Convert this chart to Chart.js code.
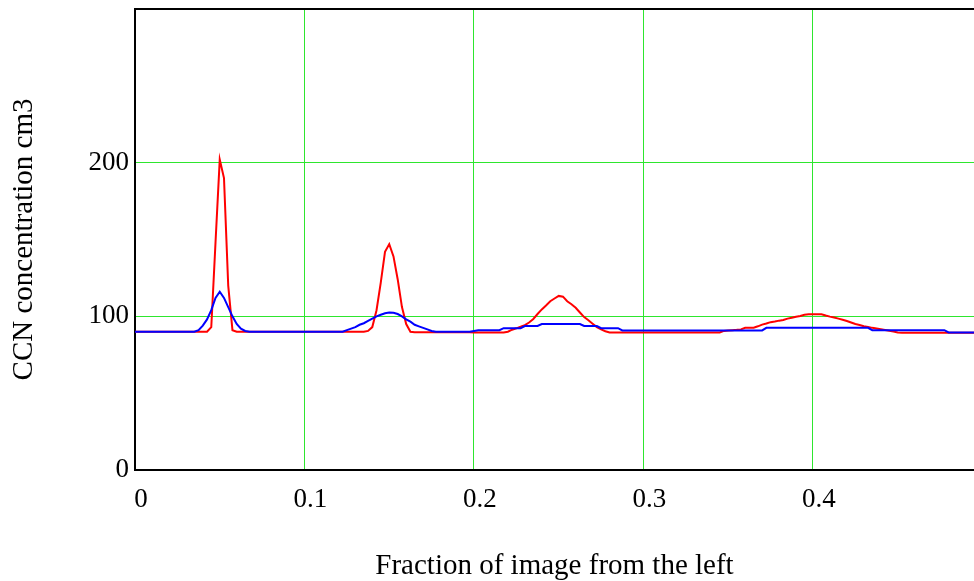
<!DOCTYPE html>
<html>
<head>
<meta charset="utf-8">
<title>CCN concentration</title>
<script src="https://cdn.jsdelivr.net/npm/chart.js@4/dist/chart.umd.min.js"></script>
<style>
    body { margin: 0; background: #fff; }
    #chart { display: block; }
</style>
</head>
<body>
<canvas id="chart" width="974" height="581"></canvas>
<script>
// x positions, fraction of image from the left (step 0.0025)
const xs = [
    0, 0.0025, 0.005, 0.0075, 0.01, 0.0125, 0.015, 0.0175, 0.02, 0.0225,
    0.025, 0.0275, 0.03, 0.0325, 0.035, 0.0375, 0.04, 0.0425, 0.045, 0.0475,
    0.05, 0.0525, 0.055, 0.0575, 0.06, 0.0625, 0.065, 0.0675, 0.07, 0.0725,
    0.075, 0.0775, 0.08, 0.0825, 0.085, 0.0875, 0.09, 0.0925, 0.095, 0.0975,
    0.1, 0.1025, 0.105, 0.1075, 0.11, 0.1125, 0.115, 0.1175, 0.12, 0.1225,
    0.125, 0.1275, 0.13, 0.1325, 0.135, 0.1375, 0.14, 0.1425, 0.145, 0.1475,
    0.15, 0.1525, 0.155, 0.1575, 0.16, 0.1625, 0.165, 0.1675, 0.17, 0.1725,
    0.175, 0.1775, 0.18, 0.1825, 0.185, 0.1875, 0.19, 0.1925, 0.195, 0.1975,
    0.2, 0.2025, 0.205, 0.2075, 0.21, 0.2125, 0.215, 0.2175, 0.22, 0.2225,
    0.225, 0.2275, 0.23, 0.2325, 0.235, 0.2375, 0.24, 0.2425, 0.245, 0.2475,
    0.25, 0.2525, 0.255, 0.2575, 0.26, 0.2625, 0.265, 0.2675, 0.27, 0.2725,
    0.275, 0.2775, 0.28, 0.2825, 0.285, 0.2875, 0.29, 0.2925, 0.295, 0.2975,
    0.3, 0.3025, 0.305, 0.3075, 0.31, 0.3125, 0.315, 0.3175, 0.32, 0.3225,
    0.325, 0.3275, 0.33, 0.3325, 0.335, 0.3375, 0.34, 0.3425, 0.345, 0.3475,
    0.35, 0.3525, 0.355, 0.3575, 0.36, 0.3625, 0.365, 0.3675, 0.37, 0.3725,
    0.375, 0.3775, 0.38, 0.3825, 0.385, 0.3875, 0.39, 0.3925, 0.395, 0.3975,
    0.4, 0.4025, 0.405, 0.4075, 0.41, 0.4125, 0.415, 0.4175, 0.42, 0.4225,
    0.425, 0.4275, 0.43, 0.4325, 0.435, 0.4375, 0.44, 0.4425, 0.445, 0.4475,
    0.45, 0.4525, 0.455, 0.4575, 0.46, 0.4625, 0.465, 0.4675, 0.47, 0.4725,
    0.475, 0.4775, 0.48, 0.4825, 0.485, 0.4875, 0.49, 0.4925, 0.495
];

// red curve
const redValues = [
    90, 90, 90, 90, 90, 90, 90, 90, 90, 90,
    90, 90, 90, 90, 90, 90, 90, 90, 93, 148,
    202, 190, 120, 91, 90, 90, 90, 90, 90, 90,
    90, 90, 90, 90, 90, 90, 90, 90, 90, 90,
    90, 90, 90, 90, 90, 90, 90, 90, 90, 90,
    90, 90, 90, 90, 90, 90.5, 93, 104, 122, 142,
    147, 139, 124, 106, 95, 90, 89.7, 89.7, 89.7, 89.7,
    89.7, 89.7, 89.7, 89.7, 89.7, 89.7, 89.7, 89.7, 89.7, 89.7,
    89.5, 89.5, 89.5, 89.5, 89.5, 89.5, 89.5, 89.5, 90, 91.3,
    92.2, 93.2, 94.3, 96, 98.3, 101.5, 104.5, 107, 109.8, 111.6,
    113.3, 112.8, 109.8, 107.9, 105.6, 102.5, 99.5, 97.5, 95.2, 93,
    91.5, 90.3, 89.5, 89.5, 89.5, 89.5, 89.5, 89.5, 89.5, 89.5,
    89.5, 89.5, 89.5, 89.5, 89.5, 89.5, 89.5, 89.5, 89.5, 89.5,
    89.5, 89.5, 89.5, 89.5, 89.5, 89.5, 89.5, 89.5, 89.5, 90.5,
    90.8, 91, 91.2, 91.5, 92.6, 92.6, 92.6, 93.5, 94.6, 95.3,
    96.2, 96.6, 97.2, 97.6, 98.5, 99.1, 99.7, 100.2, 101, 101.3,
    101.3, 101.3, 101.3, 100.5, 99.8, 99.2, 98.5, 97.8, 97, 96,
    95, 94.3, 93.6, 93.1, 92.5, 92.1, 91.6, 91.1, 90.6, 90.1,
    89.5, 89.3, 89.3, 89.3, 89.3, 89.3, 89.3, 89.3, 89.3, 89.3,
    89.3, 89.3, 89.3, 89.3, 89.3, 89.3, 89.3, 89.3, 89.3
];

// blue curve
const blueValues = [
    90, 90, 90, 90, 90, 90, 90, 90, 90, 90,
    90, 90, 90, 90, 90, 91, 94, 98, 104, 112,
    116, 112, 106, 100, 95, 92, 90.5, 90, 90, 90,
    90, 90, 90, 90, 90, 90, 90, 90, 90, 90,
    90, 90, 90, 90, 90, 90, 90, 90, 90, 90,
    91, 92, 93, 94.5, 95.5, 97, 98.5, 100, 101, 102,
    102.5, 102.3, 101.5, 100, 98, 96.5, 94.5, 93.5, 92.5, 91.5,
    90.5, 90, 90, 90, 90, 90, 90, 90, 90, 90,
    90.5, 91, 91, 91, 91, 91, 91, 92.3, 92.3, 92.3,
    92.3, 92.3, 93.7, 93.7, 93.7, 93.7, 95, 95, 95, 95,
    95, 95, 95, 95, 95, 95, 93.7, 93.7, 93.7, 93.7,
    92.3, 92.3, 92.3, 92.3, 92.3, 90.8, 90.8, 90.8, 90.8, 90.8,
    90.8, 90.8, 90.8, 90.8, 90.8, 90.8, 90.8, 90.8, 90.8, 90.8,
    90.8, 90.8, 90.8, 90.8, 90.8, 90.8, 90.8, 90.8, 90.8, 90.8,
    90.8, 90.8, 90.8, 90.8, 90.8, 90.8, 90.8, 90.8, 90.8, 92.5,
    92.5, 92.5, 92.5, 92.5, 92.5, 92.5, 92.5, 92.5, 92.5, 92.5,
    92.5, 92.5, 92.5, 92.5, 92.5, 92.5, 92.5, 92.5, 92.5, 92.5,
    92.5, 92.5, 92.5, 92.5, 91, 91, 91, 91, 91, 91,
    91, 91, 91, 91, 91, 91, 91, 91, 91, 91,
    91, 91, 89.5, 89.5, 89.5, 89.5, 89.5, 89.5, 89.5
];

const yTicks = [0, 100, 200, 300];

const serif = '"Liberation Serif", "Times New Roman", serif';
const gridGreen = '#2ee62e';

function toPoints(values) {
    return values.map((v, i) => ({ x: xs[i], y: v }));
}

new Chart(document.getElementById('chart'), {
    type: 'line',
    data: {
        datasets: [
            {
                label: 'red',
                data: toPoints(redValues),
                borderColor: '#ff0000',
                borderWidth: 2,
                pointRadius: 0,
                tension: 0,
                order: 1
            },
            {
                label: 'blue',
                data: toPoints(blueValues),
                borderColor: '#0000ff',
                borderWidth: 2,
                pointRadius: 0,
                tension: 0,
                order: 0
            }
        ]
    },
    options: {
        responsive: false,
        animation: false,
        devicePixelRatio: 1,
        layout: { padding: { top: 9, right: 0, left: 0, bottom: 0 } },
        plugins: {
            legend: { display: false },
            tooltip: { enabled: false }
        },
        scales: {
            x: {
                type: 'linear',
                min: 0,
                max: 0.495,
                border: { color: '#000', width: 2 },
                grid: {
                    color: ctx => ctx.tick.value === 0 ? '#000' : gridGreen,
                    lineWidth: 1,
                    drawTicks: false
                },
                ticks: {
                    stepSize: 0.1,
                    includeBounds: false,
                    padding: 14,
                    labelOffset: 6,
                    maxRotation: 0,
                    color: '#000',
                    font: { family: serif, size: 27 },
                    callback: v => Number(v.toFixed(1)).toString()
                },
                title: {
                    display: true,
                    text: 'Fraction of image from the left',
                    color: '#000',
                    font: { family: serif, size: 29 },
                    padding: { top: -3, bottom: -3 }
                },
                afterFit: scale => {
                    scale.height = 111;
                    scale.paddingLeft = 0;
                    scale.paddingRight = 0;
                }
            },
            y: {
                min: 0,
                max: 300,
                border: { color: '#000', width: 2 },
                grid: {
                    color: ctx => (ctx.tick.value === 300 || ctx.tick.value === 0) ? '#000' : gridGreen,
                    lineWidth: ctx => ctx.tick.value === 300 ? 2 : 1,
                    drawTicks: false
                },
                afterBuildTicks: scale => {
                    scale.ticks = yTicks.map(v => ({ value: v }));
                },
                ticks: {
                    padding: 6,
                    color: '#000',
                    font: { family: serif, size: 27 },
                    callback: v => v === 300 ? '' : v
                },
                title: {
                    display: true,
                    text: 'CCN concentration cm3',
                    color: '#000',
                    font: { family: serif, size: 29 },
                    padding: { top: 7, bottom: 0 }
                },
                afterFit: scale => {
                    scale.width = 135;
                    scale.paddingTop = 0;
                    scale.paddingBottom = 0;
                }
            }
        }
    }
});
</script>
</body>
</html>
